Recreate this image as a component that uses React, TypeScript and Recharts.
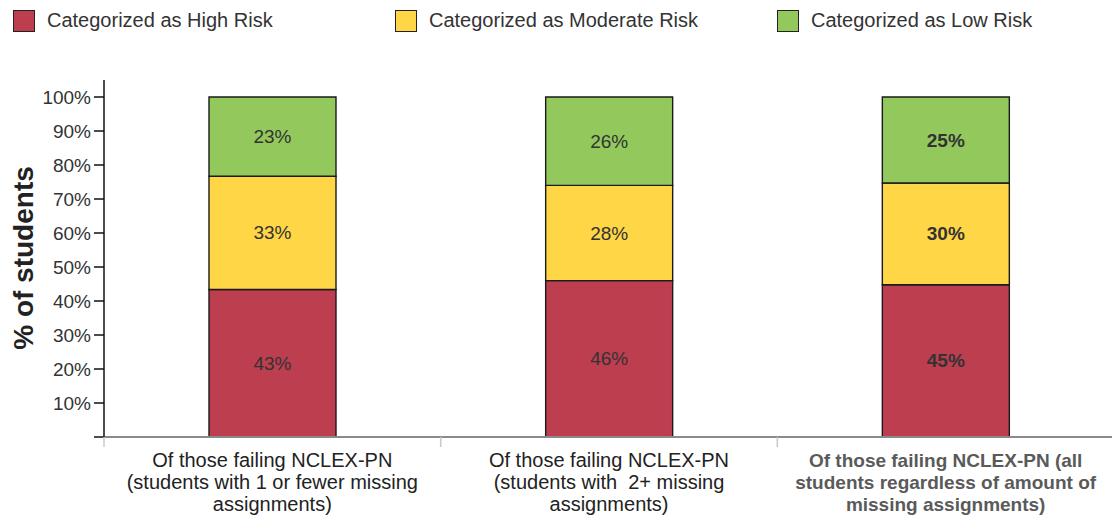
import React from 'react';
import { BarChart, Bar, XAxis, YAxis, Legend, LabelList } from 'recharts';

// categories (x axis) - line breaks as they appear under the bars
const categories = [
  'Of those failing NCLEX-PN\n(students with 1 or fewer missing\nassignments)',
  'Of those failing NCLEX-PN\n(students with  2+ missing\nassignments)',
  'Of those failing NCLEX-PN (all\nstudents regardless of amount of\nmissing assignments)',
];

// % of students in each risk group
const highRisk = [43.4, 46.0, 44.8];
const moderateRisk = [33.3, 28.0, 29.9];
const lowRisk = [23.3, 26.0, 25.3];

const yTicks = [0, 10, 20, 30, 40, 50, 60, 70, 80, 90, 100];

const seriesInfo = [
  { key: 'high', name: 'Categorized as High Risk', color: '#BD3E4F' },
  { key: 'moderate', name: 'Categorized as Moderate Risk', color: '#FFD646' },
  { key: 'low', name: 'Categorized as Low Risk', color: '#93C95C' },
];

const data = categories.map((name, i) => ({
  name,
  high: highRisk[i],
  moderate: moderateRisk[i],
  low: lowRisk[i],
}));

const FONT = '"Liberation Sans", Arial, sans-serif';
const HIGHLIGHT = 2; // last group is drawn in bold

const XTick = (props: any) => {
  const { x, y, payload, index } = props;
  const half = payload && payload.offset ? payload.offset : 168;
  const lines: string[] = String(payload.value).split('\n');
  const bold = index === HIGHLIGHT;
  return (
    <g>
      <line x1={x - half} x2={x - half} y1={y} y2={y + 10} stroke="#c8c8c8" strokeWidth={1.5} />
      <text
        x={x}
        y={y + 30}
        textAnchor="middle"
        fontFamily={FONT}
        fontSize={bold ? 19 : 20}
        fontWeight={bold ? 700 : 400}
        fill={bold ? '#5a5a5a' : '#222'}
        style={{ whiteSpace: 'pre' }}
      >
        {lines.map((l, i) => (
          <tspan key={i} x={x} dy={i === 0 ? 0 : 22}>
            {l}
          </tspan>
        ))}
      </text>
    </g>
  );
};

const renderBarLabel = (props: any) => {
  const { x, y, width, height, value, index } = props;
  const bold = index === HIGHLIGHT;
  return (
    <text
      x={x + width / 2}
      y={y + height / 2}
      textAnchor="middle"
      dominantBaseline="central"
      fontFamily={FONT}
      fontSize={19}
      fontWeight={bold ? 700 : 400}
      fill="#333"
    >
      {Math.round(value)}%
    </text>
  );
};

const renderLegend = () => (
  <div style={{ position: 'relative', height: 40, fontFamily: FONT }}>
    {seriesInfo.map((s, i) => (
      <div
        key={s.key}
        style={{ position: 'absolute', left: 13 + i * 382, top: 9, display: 'flex', alignItems: 'center' }}
      >
        <span
          style={{
            width: 20,
            height: 20,
            background: s.color,
            border: '1.5px solid #222',
            display: 'inline-block',
          }}
        />
        <span style={{ marginLeft: 12, fontSize: 20, color: '#333' }}>{s.name}</span>
      </div>
    ))}
  </div>
);

const renderYLabel = () => (
  <text
    x={23}
    y={258}
    transform="rotate(-90 23 258)"
    textAnchor="middle"
    dominantBaseline="central"
    fontFamily={FONT}
    fontSize={28}
    fontWeight={700}
    fill="#222"
  >
    % of students
  </text>
);

export default function App() {
  return (
    <div style={{ position: 'absolute', left: 0, top: 0, background: '#fff' }}>
      <BarChart
        width={1112}
        height={518}
        data={data}
        margin={{ top: 40, right: -2, bottom: 6, left: 0 }}
        barCategoryGap={0}
      >
        <Legend verticalAlign="top" align="left" content={renderLegend} wrapperStyle={{ top: 0, left: 0, width: 1112 }} />
        <XAxis
          dataKey="name"
          interval={0}
          height={75}
          tickLine={false}
          tickSize={0}
          tickMargin={0}
          axisLine={{ stroke: '#8a8a8a', strokeWidth: 2 }}
          tick={<XTick />}
        />
        <YAxis
          width={104}
          domain={[0, 105]}
          ticks={yTicks}
          interval={0}
          tickSize={10}
          tickMargin={3}
          tickFormatter={(v: number) => (v === 0 ? '' : `${v}%`)}
          tick={{ fontFamily: FONT, fontSize: 19, fill: '#333' }}
          tickLine={{ stroke: '#111', strokeWidth: 1.5 }}
          axisLine={{ stroke: '#111', strokeWidth: 1.5 }}
          label={{ content: renderYLabel }}
        />
        {seriesInfo.map((s) => (
          <Bar
            key={s.key}
            dataKey={s.key}
            name={s.name}
            stackId="risk"
            fill={s.color}
            stroke="#1a1a1a"
            strokeWidth={1.4}
            barSize={127}
            isAnimationActive={false}
          >
            <LabelList dataKey={s.key} content={renderBarLabel} />
          </Bar>
        ))}
      </BarChart>
    </div>
  );
}
